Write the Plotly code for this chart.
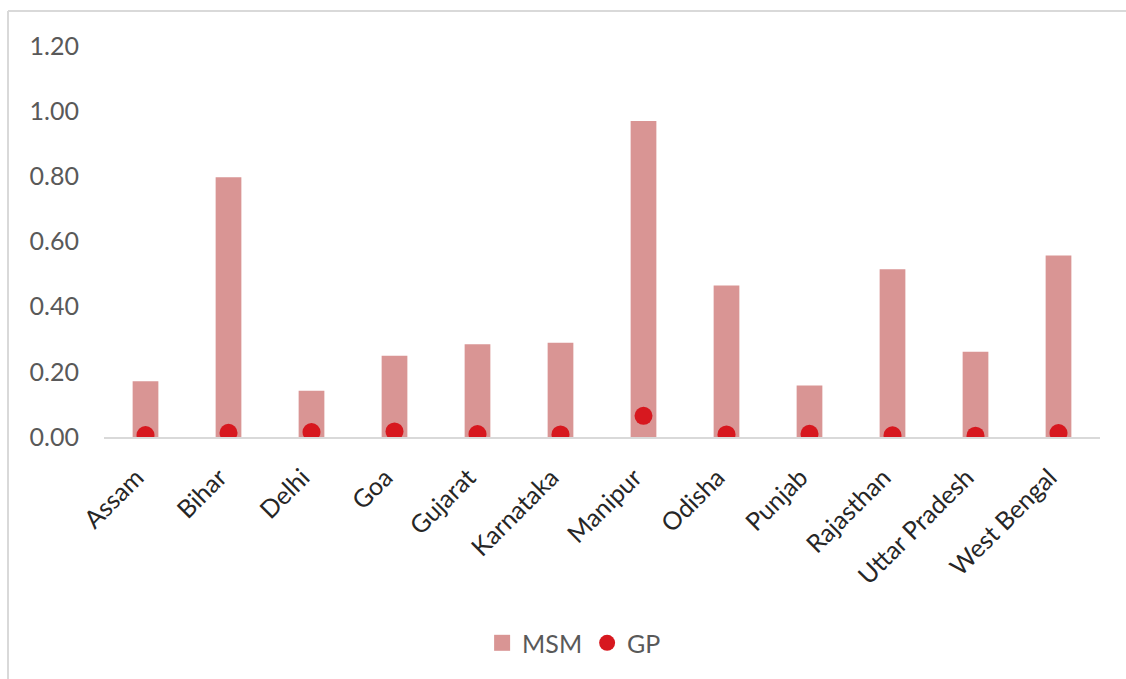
import plotly.graph_objects as go

states = ["Assam", "Bihar", "Delhi", "Goa", "Gujarat", "Karnataka", "Manipur",
          "Odisha", "Punjab", "Rajasthan", "Uttar Pradesh", "West Bengal"]
msm = [0.171, 0.797, 0.142, 0.249, 0.285, 0.289, 0.970, 0.465, 0.158, 0.515, 0.262, 0.557]
gp = [0.006, 0.013, 0.015, 0.017, 0.009, 0.008, 0.065, 0.008, 0.010, 0.005, 0.004, 0.012]
y_ticks = [0.0, 0.2, 0.4, 0.6, 0.8, 1.0, 1.2]

FONT = "Lato"
BAR_COLOR = "#d99594"
DOT_COLOR = "#d7181f"
GRID_GRAY = "#d9d9d9"

fig = go.Figure()
fig.add_trace(go.Bar(
    x=states, y=msm, name="MSM", showlegend=False,
    marker=dict(color=BAR_COLOR, line=dict(width=0)),
))
# legend key for the bars: a larger square swatch
fig.add_trace(go.Scatter(
    x=[None], y=[None], name="MSM", mode="markers",
    marker=dict(color=BAR_COLOR, size=16, symbol="square", line=dict(width=0)),
))
fig.add_trace(go.Scatter(
    x=states, y=gp, name="GP", mode="markers",
    marker=dict(color=DOT_COLOR, size=18, line=dict(width=0)),
))

fig.update_layout(
    width=1126, height=679,
    margin=dict(l=104, r=26, t=46, b=242),
    paper_bgcolor="white", plot_bgcolor="white",
    bargap=0.69,
    font=dict(family=FONT, size=20, color="#595959"),
    showlegend=True,
    legend=dict(
        orientation="h", x=0.472, xanchor="center", y=-0.527, yanchor="middle",
        font=dict(family=FONT, size=25, color="#595959"),
        itemsizing="trace", traceorder="normal",
    ),
    xaxis=dict(
        tickangle=-45, showgrid=False, showline=True, linecolor=GRID_GRAY,
        linewidth=2, ticks="", tickfont=dict(family=FONT, size=25, color="#262626"),
        range=[-0.5, 11.5], zeroline=False,
        ticklabelstandoff=14, ticklabelshift=-9,
    ),
    yaxis=dict(
        range=[0, 1.2], tickvals=y_ticks, ticktext=[f"{v:.2f}" for v in y_ticks],
        showgrid=False, zeroline=False, showline=False, ticks="",
        tickfont=dict(family=FONT, size=25, color="#595959"),
        ticklabelstandoff=24,
    ),
    shapes=[
        # light frame around the chart area (top and left edges)
        dict(type="line", xref="paper", yref="paper", x0=-0.0964, x1=1.2,
             y0=1.0895, y1=1.0895, line=dict(color=GRID_GRAY, width=2)),
        dict(type="line", xref="paper", yref="paper", x0=-0.0964, x1=-0.0964,
             y0=1.0895, y1=-0.7, line=dict(color=GRID_GRAY, width=2)),
    ],
)

fig.write_html("out.html")
